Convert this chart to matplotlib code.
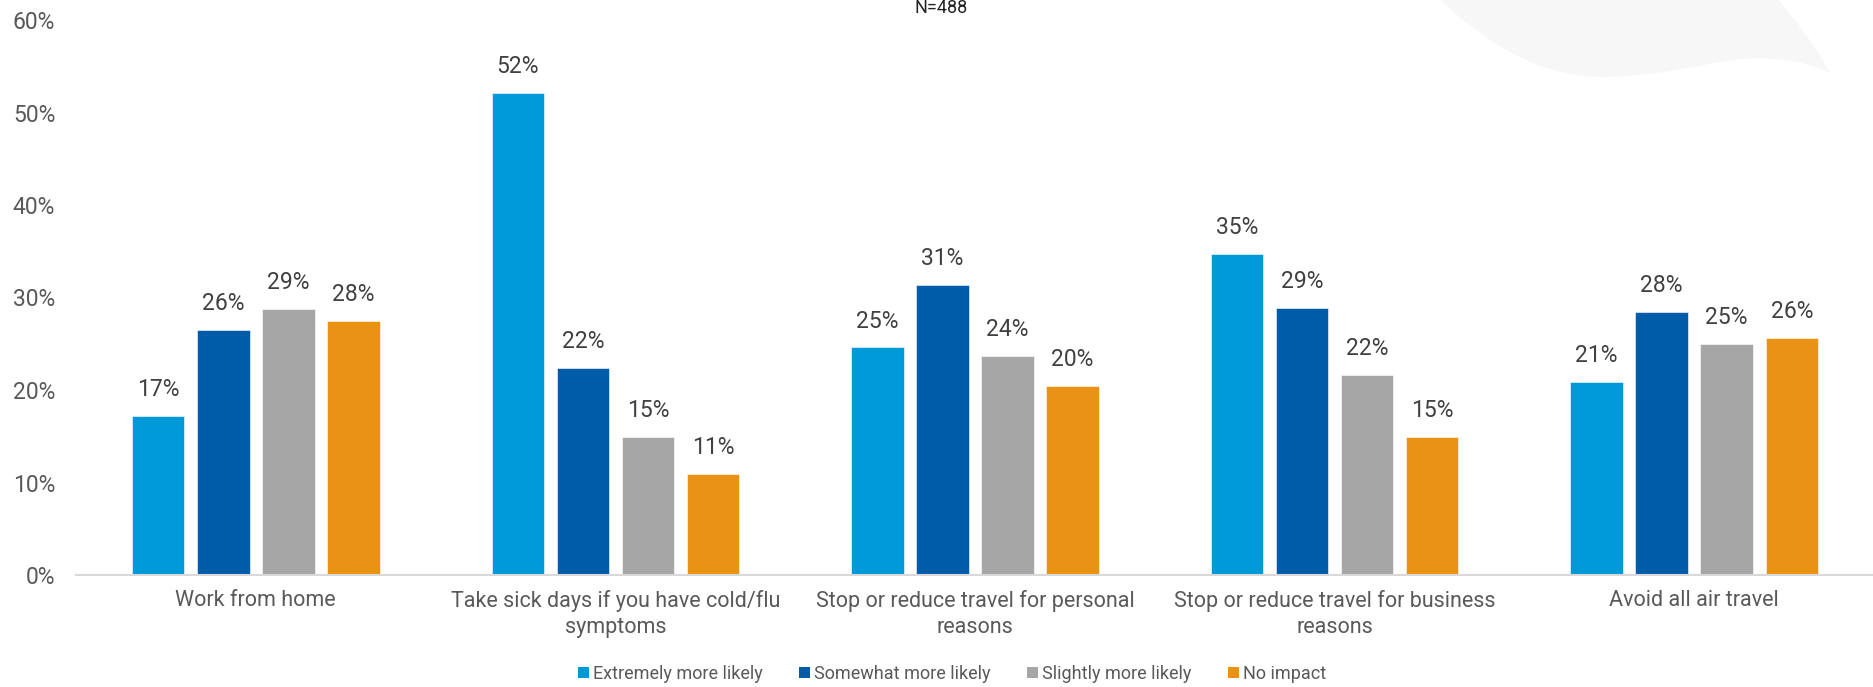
import matplotlib
matplotlib.use("Agg")
import matplotlib.pyplot as plt
import numpy as np
from matplotlib.path import Path
from matplotlib.patches import PathPatch, Patch

plt.rcParams['font.family'] = ['Roboto', 'DejaVu Sans']

categories = ["Work from home",
              "Take sick days if you have cold/flu\nsymptoms",
              "Stop or reduce travel for personal\nreasons",
              "Stop or reduce travel for business\nreasons",
              "Avoid all air travel"]
series_names = ["Extremely more likely", "Somewhat more likely",
                "Slightly more likely", "No impact"]
extremely = [17.2, 52.1, 24.6, 34.7, 20.9]
somewhat = [26.5, 22.4, 31.4, 28.9, 28.4]
slightly = [28.8, 14.9, 23.7, 21.6, 25.0]
no_impact = [27.5, 10.9, 20.4, 14.9, 25.6]
yticks = [0, 10, 20, 30, 40, 50, 60]
title = "N=488"

colors = ["#0099d8", "#005ca9", "#a6a6a6", "#ea9214"]
series = [extremely, somewhat, slightly, no_impact]

W, H = 1874, 687
fig = plt.figure(figsize=(W / 100, H / 100), dpi=100)
fig.patch.set_facecolor("white")

# decorative background shape (top-right)
def fp(x, y):
    return (x / W, 1 - y / H)

verts = [fp(1438, -2),
         fp(1500, 55), fp(1550, 78), fp(1607, 77),
         fp(1670, 76), fp(1720, 58), fp(1760, 58),
         fp(1795, 59), fp(1815, 66), fp(1830, 73),
         fp(1812, 40), fp(1795, 20), fp(1777, -2),
         fp(1438, -2)]
codes = [Path.MOVETO,
         Path.CURVE4, Path.CURVE4, Path.CURVE4,
         Path.CURVE4, Path.CURVE4, Path.CURVE4,
         Path.CURVE4, Path.CURVE4, Path.CURVE4,
         Path.CURVE4, Path.CURVE4, Path.CURVE4,
         Path.CLOSEPOLY]
shape = PathPatch(Path(verts, codes), transform=fig.transFigure,
                  facecolor="#f7f7f7", edgecolor="none", zorder=0)
fig.patches.append(shape)

ax = fig.add_axes([76 / W, (H - 575) / H, 1 - 76 / W, (575 - 20) / H])
ax.patch.set_alpha(0)

x = np.arange(len(categories))
step = 0.181
width = 0.146
for i, (vals, c, name) in enumerate(zip(series, colors, series_names)):
    pos = x + (i - 1.5) * step
    bars = ax.bar(pos, vals, width, color=c, label=name, zorder=2,
                  edgecolor="white", linewidth=0.4)
    for b, v in zip(bars, vals):
        ax.text(b.get_x() + b.get_width() / 2, v + 1.6, f"{v:.0f}%",
                ha="center", va="bottom", fontsize=16.5, color="#404040")

ax.set_xlim(-0.5, 4.5)
ax.set_ylim(0, 60)
ax.set_yticks(yticks)
ax.set_yticklabels([f"{t}%" for t in yticks])
ax.set_xticks(x)
ax.set_xticklabels(categories, linespacing=1.3)
ax.tick_params(axis="y", length=0, pad=15, labelsize=16.5, labelcolor="#595959")
ax.tick_params(axis="x", length=0, pad=11, labelsize=15.5, labelcolor="#595959")
for s in ["top", "right", "left"]:
    ax.spines[s].set_visible(False)
ax.spines["bottom"].set_color("#d9d9d9")
ax.spines["bottom"].set_linewidth(1.5)

fig.text(941 / W, 1 - 13 / H, title, ha="center", va="baseline",
         fontsize=13, color="#222222")

handles = [Patch(facecolor=c, edgecolor="none") for c in colors]
fig.legend(handles, series_names, loc="center", bbox_to_anchor=(952 / W, 1 - 674 / H),
           ncol=4, frameon=False, fontsize=13, handlelength=0.6, handleheight=0.6,
           handletextpad=0.25, columnspacing=2.0, labelcolor="#595959")

fig.savefig("out.png", dpi=100)
